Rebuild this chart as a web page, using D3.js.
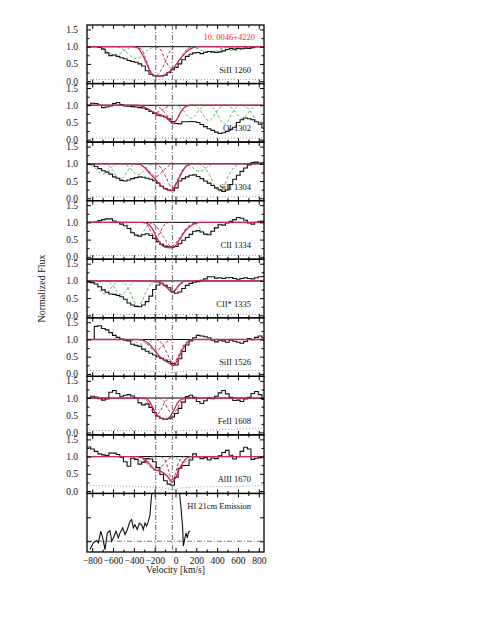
<!DOCTYPE html>
<html>
<head>
<meta charset="utf-8">
<script src="https://cdn.jsdelivr.net/npm/d3@7"></script>
<style>
  body { margin: 0; background: #fff; }
  svg { display: block; }
</style>
</head>
<body>
<svg id="chart" width="485" height="627"></svg>
<script>
// ---- data ----
var velRange = [-850, 850];
var velTicks = [-800, -600, -400, -200, 0, 200, 400, 600, 800];
var velMinorTicks = [-700, -500, -300, -100, 100, 300, 500, 700];
var hvcCenters = [-190, -30];
var fluxTicks = [0, 0.5, 1.0, 1.5];
var fluxMinorTicks = [0.25, 0.75, 1.25];
var titleText = "10. 0046+4220";

// spectra are binned: bin k starts at binStart + k*binWidth
var binStart = -850, binWidth = 35;

var fluxSiII1260 = [1.0,1.0,1.0,0.98,0.93,0.82,0.74,0.76,0.72,0.68,0.65,0.6,0.57,0.55,0.5,0.44,0.3,0.2,0.16,0.15,0.15,0.17,0.25,0.33,0.4,0.5,0.62,0.72,0.78,0.82,0.83,0.8,0.84,0.86,0.85,0.83,0.85,0.88,0.92,0.95,0.93,0.95,0.94,0.96,0.95,0.97,1.0,1.0,1.0];
var fluxOI1302 = [1.0,1.06,1.05,1.0,0.93,0.95,0.98,1.05,1.08,1.02,0.98,0.97,0.96,0.95,0.93,0.92,0.88,0.82,0.76,0.71,0.69,0.66,0.61,0.53,0.47,0.46,0.52,0.52,0.53,0.52,0.5,0.44,0.38,0.32,0.27,0.22,0.18,0.2,0.24,0.3,0.36,0.5,0.58,0.63,0.61,0.58,0.52,0.45,0.34];
var fluxSiII1304 = [1.0,0.98,0.92,0.86,0.8,0.76,0.7,0.62,0.58,0.52,0.5,0.53,0.57,0.6,0.62,0.61,0.58,0.55,0.51,0.44,0.35,0.28,0.24,0.22,0.3,0.5,0.57,0.62,0.67,0.68,0.63,0.57,0.5,0.44,0.37,0.3,0.24,0.2,0.24,0.4,0.55,0.67,0.78,0.88,0.97,1.04,1.05,1.02,1.03];
var fluxCII1334 = [1.0,1.0,1.01,1.05,1.08,1.1,1.1,1.04,1.0,0.95,0.9,0.82,0.7,0.63,0.6,0.64,0.67,0.62,0.53,0.44,0.36,0.31,0.29,0.28,0.3,0.38,0.48,0.56,0.65,0.74,0.76,0.72,0.66,0.64,0.74,0.84,0.93,0.92,0.98,1.03,1.08,1.14,1.12,1.06,0.98,0.95,1.0,1.03,1.04];
var fluxCIIs1335 = [0.96,0.95,0.91,0.83,0.74,0.67,0.62,0.61,0.58,0.54,0.47,0.36,0.3,0.26,0.25,0.3,0.4,0.56,0.75,0.88,0.93,0.87,0.8,0.7,0.64,0.68,0.78,0.87,0.93,0.96,0.98,1.02,1.06,1.12,1.12,1.08,1.09,1.07,1.09,1.1,1.07,1.05,1.07,1.09,1.07,1.06,1.09,1.12,1.13];
var fluxSiII1526 = [1.0,1.0,1.38,1.4,1.32,1.28,1.2,1.12,1.06,1.01,0.98,0.96,0.86,0.83,0.8,0.72,0.66,0.6,0.55,0.5,0.45,0.4,0.36,0.3,0.26,0.44,0.65,0.84,0.96,1.05,1.12,1.1,1.08,1.05,0.98,0.93,0.98,0.96,0.92,0.98,0.95,0.92,0.89,0.94,1.03,0.99,1.06,1.1,1.05];
var fluxFeII1608 = [1.0,1.05,1.03,0.98,0.94,0.97,1.17,1.22,1.13,1.05,1.08,1.1,1.06,1.0,0.86,0.8,0.83,0.73,0.58,0.47,0.41,0.38,0.4,0.45,0.55,0.7,0.88,1.04,1.08,1.02,0.9,0.84,0.92,0.99,0.98,1.05,1.15,1.22,1.12,1.02,0.93,0.94,0.9,0.97,1.02,1.13,1.19,1.1,0.96];
var fluxAlII1670 = [1.28,1.22,1.15,1.08,1.05,1.03,1.1,1.1,1.06,0.98,0.85,0.72,0.95,0.92,0.78,0.84,0.94,0.93,0.85,0.68,0.48,0.3,0.2,0.17,0.4,0.66,0.74,0.74,0.9,1.08,1.0,0.94,0.97,0.9,0.96,0.94,1.02,1.12,1.18,1.04,0.93,1.0,1.15,1.27,1.22,0.92,0.95,0.97,1.0];

// error spectra (dotted), [velocity, flux]
var errSiII1260 = [[-850,0.05],[-200,0.04],[850,0.05]];
var errOI1302 = [[-850,0.05],[850,0.05]];
var errSiII1304 = [[-850,0.04],[850,0.04]];
var errCII1334 = [[-850,0.04],[850,0.04]];
var errCIIs1335 = [[-850,0.03],[850,0.03]];
var errSiII1526 = [[-850,0.1],[-300,0.09],[-100,0.06],[-20,0.04],[50,0.07],[150,0.1],[850,0.1]];
var errFeII1608 = [[-850,0.06],[0,0.05],[400,0.08],[850,0.12]];
var errAlII1670 = [[-850,0.16],[-400,0.14],[-150,0.1],[-30,0.05],[50,0.09],[200,0.12],[500,0.13],[850,0.16]];

// total HVC fit (solid red)
var fitSiII1260 = [[-850,1],[-420,1],[-360,0.96],[-315,0.75],[-276,0.5],[-238,0.25],[-200,0.15],[-150,0.14],[-100,0.18],[-60,0.27],[-30,0.35],[10,0.5],[60,0.7],[108,0.86],[170,0.97],[230,1],[850,1]];
var fitOI1302 = [[-850,1],[-380,1],[-320,0.97],[-260,0.88],[-200,0.78],[-150,0.73],[-100,0.67],[-60,0.56],[-25,0.46],[10,0.58],[50,0.8],[90,0.95],[140,1],[850,1]];
var fitSiII1304 = [[-850,1],[-360,1],[-300,0.9],[-240,0.7],[-180,0.5],[-120,0.31],[-70,0.24],[-35,0.23],[0,0.38],[45,0.65],[90,0.88],[150,1],[850,1]];
var fitCII1334 = [[-850,1],[-310,1],[-260,0.95],[-220,0.8],[-180,0.55],[-140,0.37],[-100,0.28],[-50,0.26],[0,0.32],[40,0.5],[90,0.74],[140,0.88],[190,0.97],[250,1],[850,1]];
var fitCIIs1335 = [[-850,1],[-230,1],[-180,0.98],[-130,0.92],[-80,0.8],[-30,0.66],[10,0.78],[50,0.93],[100,1],[850,1]];
var fitSiII1526 = [[-850,1],[-350,1],[-300,0.97],[-250,0.86],[-200,0.68],[-150,0.5],[-100,0.38],[-50,0.29],[-20,0.25],[15,0.38],[50,0.6],[90,0.82],[130,0.95],[170,1],[850,1]];
var fitFeII1608 = [[-850,1],[-300,1],[-250,0.9],[-215,0.7],[-180,0.52],[-140,0.41],[-100,0.38],[-60,0.44],[-20,0.62],[20,0.86],[60,0.97],[110,1],[850,1]];
var fitAlII1670 = [[-850,1],[-380,1],[-320,0.97],[-270,0.86],[-230,0.72],[-190,0.6],[-150,0.58],[-110,0.52],[-70,0.4],[-35,0.26],[0,0.38],[30,0.6],[75,0.84],[110,0.96],[160,1],[850,1]];

// single HVC components (dashed red)
var compsSiII1260 = [
  [[-400,1],[-330,0.93],[-280,0.6],[-240,0.3],[-190,0.16],[-140,0.3],[-100,0.55],[-50,0.88],[0,1]],
  [[-190,1],[-140,0.9],[-100,0.62],[-60,0.42],[-30,0.36],[0,0.4],[40,0.6],[90,0.86],[150,1]]];
var compsOI1302 = [
  [[-360,1],[-300,0.95],[-245,0.85],[-190,0.79],[-135,0.85],[-80,0.95],[-20,1]],
  [[-200,1],[-140,0.9],[-80,0.7],[-25,0.47],[20,0.62],[70,0.88],[130,1]]];
var compsSiII1304 = [
  [[-380,1],[-320,0.95],[-260,0.8],[-190,0.62],[-120,0.8],[-60,0.95],[0,1]],
  [[-200,1],[-140,0.88],[-90,0.6],[-30,0.3],[30,0.6],[80,0.88],[140,1]]];
var compsCII1334 = [
  [[-320,1],[-270,0.92],[-230,0.7],[-190,0.55],[-150,0.7],[-110,0.92],[-60,1]],
  [[-260,1],[-190,0.9],[-120,0.6],[-40,0.3],[40,0.55],[110,0.85],[190,0.98],[250,1]]];
var compsCIIs1335 = [
  [[-300,1],[-250,0.99],[-190,0.97],[-130,0.99],[-80,1]],
  [[-170,1],[-120,0.93],[-75,0.8],[-30,0.67],[15,0.8],[60,0.93],[110,1]]];
var compsSiII1526 = [
  [[-360,1],[-300,0.94],[-250,0.8],[-190,0.66],[-130,0.8],[-80,0.94],[-20,1]],
  [[-190,1],[-130,0.88],[-80,0.6],[-25,0.3],[30,0.55],[80,0.85],[140,1]]];
var compsFeII1608 = [
  [[-320,1],[-270,0.9],[-230,0.66],[-185,0.5],[-140,0.66],[-100,0.9],[-50,1]],
  [[-160,1],[-110,0.9],[-70,0.66],[-25,0.55],[20,0.7],[60,0.92],[110,1]]];
var compsAlII1670 = [
  [[-360,1],[-300,0.9],[-250,0.72],[-190,0.6],[-130,0.72],[-80,0.9],[-20,1]],
  [[-140,1],[-100,0.9],[-65,0.58],[-30,0.27],[5,0.58],[40,0.9],[80,1]]];

// other (blended / non-HVC) components (dashed green)
var blendsSiII1260 = [
  [[-760,1],[-690,0.93],[-630,0.8],[-580,0.76],[-530,0.8],[-470,0.93],[-400,1]],
  [[-560,1],[-490,0.9],[-430,0.72],[-380,0.66],[-330,0.72],[-270,0.9],[-200,1]],
  [[150,1],[220,0.93],[280,0.86],[330,0.84],[380,0.86],[440,0.93],[510,1]],
  [[380,1],[450,0.95],[510,0.9],[560,0.89],[610,0.9],[670,0.95],[740,1]]];
var blendsOI1302 = [
  [[-10,1],[40,0.95],[80,0.83],[115,0.69],[150,0.62],[185,0.69],[220,0.83],[260,0.95],[310,1]],
  [[160,1],[210,0.94],[250,0.8],[285,0.63],[320,0.55],[355,0.63],[390,0.8],[430,0.94],[480,1]],
  [[310,1],[360,0.93],[400,0.76],[435,0.55],[470,0.45],[505,0.55],[540,0.76],[580,0.93],[630,1]],
  [[480,1],[530,0.95],[570,0.83],[605,0.69],[640,0.62],[675,0.69],[710,0.83],[750,0.95],[800,1]],
  [[640,1],[690,0.93],[730,0.78],[765,0.59],[800,0.5],[835,0.59],[870,0.78]]];
var blendsSiII1304 = [
  [[-860,1],[-810,0.96],[-770,0.87],[-735,0.76],[-700,0.7],[-665,0.76],[-630,0.87],[-590,0.96],[-540,1]],
  [[-690,1],[-640,0.94],[-600,0.8],[-565,0.63],[-530,0.55],[-495,0.63],[-460,0.8],[-420,0.94],[-370,1]],
  [[-520,1],[-470,0.96],[-430,0.86],[-395,0.74],[-360,0.68],[-325,0.74],[-290,0.86],[-250,0.96],[-200,1]],
  [[70,1],[120,0.97],[160,0.9],[195,0.82],[230,0.78],[265,0.82],[300,0.9],[340,0.97],[390,1]],
  [[220,1],[280,0.89],[330,0.66],[375,0.36],[420,0.21],[465,0.36],[510,0.66],[560,0.89],[620,1]]];
var blendsCII1334 = [
  [[-520,1],[-470,0.95],[-430,0.82],[-395,0.67],[-360,0.6],[-325,0.67],[-290,0.82],[-250,0.95],[-200,1]],
  [[140,1],[190,0.95],[230,0.84],[265,0.71],[300,0.64],[335,0.71],[370,0.84],[410,0.95],[460,1]]];
var blendsCIIs1335 = [
  [[-840,1],[-790,0.95],[-750,0.83],[-715,0.69],[-680,0.62],[-645,0.69],[-610,0.83],[-570,0.95],[-520,1]],
  [[-680,1],[-630,0.95],[-590,0.82],[-555,0.67],[-520,0.6],[-485,0.67],[-450,0.82],[-410,0.95],[-360,1]],
  [[-530,1],[-480,0.9],[-437,0.68],[-398,0.41],[-360,0.27],[-322,0.41],[-283,0.68],[-240,0.9],[-190,1]]];
var blendsSiII1526 = [
  [[-480,1],[-430,0.98],[-390,0.94],[-355,0.89],[-320,0.86],[-285,0.89],[-250,0.94],[-210,0.98],[-160,1]]];
var blendsFeII1608 = [];
var blendsAlII1670 = [
  [[-440,1],[-400,0.97],[-370,0.92],[-345,0.87],[-320,0.84],[-295,0.87],[-270,0.92],[-240,0.97],[-200,1]],
  [[-40,1],[0,0.97],[30,0.92],[55,0.86],[80,0.82],[105,0.86],[130,0.92],[160,0.97],[200,1]]];

// HI 21cm emission profile, [velocity, relative brightness]
var hiEmission = [[-821,-0.35],[-789,-0.07],[-757,0.03],[-741,-0.07],[-718,0.42],[-699,0.14],[-677,-0.35],[-655,0.35],[-629,0.44],[-613,0.0],[-597,0.14],[-571,0.42],[-549,0.14],[-533,0.35],[-507,0.56],[-485,0.28],[-463,0.49],[-437,0.83],[-421,0.9],[-405,0.56],[-389,0.69],[-367,0.49],[-347,0.76],[-325,0.69],[-309,0.49],[-293,0.76],[-277,0.63],[-261,0.83],[-245,1.1],[-235,1.66],[-223,2.2],[-210,3.5],[20,3.5],[34,2.2],[53,1.39],[69,0.56],[75,-0.2],[91,0.14],[101,0.35],[113,0.14],[126,0.39],[139,0.42]];
var hiTicks = [0, 1];

var panels = [
  {label: "SiII 1260", flux: fluxSiII1260, err: errSiII1260, fit: fitSiII1260, comps: compsSiII1260, blends: blendsSiII1260},
  {label: "OI 1302", flux: fluxOI1302, err: errOI1302, fit: fitOI1302, comps: compsOI1302, blends: blendsOI1302},
  {label: "SiII 1304", flux: fluxSiII1304, err: errSiII1304, fit: fitSiII1304, comps: compsSiII1304, blends: blendsSiII1304},
  {label: "CII 1334", flux: fluxCII1334, err: errCII1334, fit: fitCII1334, comps: compsCII1334, blends: blendsCII1334},
  {label: "CII* 1335", flux: fluxCIIs1335, err: errCIIs1335, fit: fitCIIs1335, comps: compsCIIs1335, blends: blendsCIIs1335},
  {label: "SiII 1526", flux: fluxSiII1526, err: errSiII1526, fit: fitSiII1526, comps: compsSiII1526, blends: blendsSiII1526},
  {label: "FeII 1608", flux: fluxFeII1608, err: errFeII1608, fit: fitFeII1608, comps: compsFeII1608, blends: blendsFeII1608},
  {label: "AlII 1670", flux: fluxAlII1670, err: errAlII1670, fit: fitAlII1670, comps: compsAlII1670, blends: blendsAlII1670}
];

// ---- drawing ----
var svg = d3.select("#chart"),
  FRAME = {left: 87, right: 264, top: 25, bottom: 552},
  nPanels = panels.length + 1,
  PH = (FRAME.bottom - FRAME.top) / nPanels,
  serif = "'Liberation Serif', 'Times New Roman', Times, serif",
  RED = "#c8285c",
  GREEN = "#5aaa5a",
  xScale = d3.scaleLinear().domain(velRange).range([FRAME.left, FRAME.right]);

function styleAxis(g) {
  g.select(".domain").remove();
  g.attr("font-family", serif).attr("font-size", 9.5);
  g.selectAll("line").attr("stroke", "#000").attr("stroke-width", 1);
  g.selectAll("text").attr("fill", "#111");
}

function drawFrame(top, yScale, yTicks, yMinor, isLast) {
  var bottom = top + PH;
  // x ticks, top and bottom, pointing inwards
  svg.append("g").attr("transform", "translate(0," + bottom + ")")
    .call(d3.axisBottom(xScale).tickValues(velTicks).tickSize(-4).tickSizeOuter(0).tickPadding(5)
      .tickFormat(isLast ? d3.format("d") : ""))
    .call(styleAxis);
  svg.append("g").attr("transform", "translate(0," + bottom + ")")
    .call(d3.axisBottom(xScale).tickValues(velMinorTicks).tickSize(-2.5).tickSizeOuter(0).tickFormat(""))
    .call(styleAxis);
  svg.append("g").attr("transform", "translate(0," + top + ")")
    .call(d3.axisTop(xScale).tickValues(velTicks).tickSize(-4).tickSizeOuter(0).tickFormat(""))
    .call(styleAxis);
  svg.append("g").attr("transform", "translate(0," + top + ")")
    .call(d3.axisTop(xScale).tickValues(velMinorTicks).tickSize(-2.5).tickSizeOuter(0).tickFormat(""))
    .call(styleAxis);
  // y ticks, left (labelled) and right
  svg.append("g").attr("transform", "translate(" + FRAME.left + ",0)")
    .call(d3.axisLeft(yScale).tickValues(yTicks).tickSize(-4).tickSizeOuter(0).tickPadding(9)
      .tickFormat(yMinor ? d3.format(".1f") : ""))
    .call(styleAxis);
  svg.append("g").attr("transform", "translate(" + FRAME.right + ",0)")
    .call(d3.axisRight(yScale).tickValues(yTicks).tickSize(-4).tickSizeOuter(0).tickFormat(""))
    .call(styleAxis);
  if (yMinor) {
    svg.append("g").attr("transform", "translate(" + FRAME.left + ",0)")
      .call(d3.axisLeft(yScale).tickValues(yMinor).tickSize(-2.5).tickSizeOuter(0).tickFormat(""))
      .call(styleAxis);
    svg.append("g").attr("transform", "translate(" + FRAME.right + ",0)")
      .call(d3.axisRight(yScale).tickValues(yMinor).tickSize(-2.5).tickSizeOuter(0).tickFormat(""))
      .call(styleAxis);
  }
  svg.append("rect")
    .attr("x", FRAME.left).attr("y", top)
    .attr("width", FRAME.right - FRAME.left).attr("height", PH)
    .attr("fill", "none").attr("stroke", "#000").attr("stroke-width", 1.3);
}

function clipFor(i, top) {
  svg.append("clipPath").attr("id", "clip" + i)
    .append("rect")
    .attr("x", FRAME.left).attr("y", top)
    .attr("width", FRAME.right - FRAME.left).attr("height", PH);
  return svg.append("g").attr("clip-path", "url(#clip" + i + ")");
}

panels.forEach(function (p, i) {
  var top = FRAME.top + i * PH,
    yScale = d3.scaleLinear().domain([-0.07, 1.63]).range([top + PH, top]),
    smooth = d3.line().x(function (d) { return xScale(d[0]); })
      .y(function (d) { return yScale(d[1]); }).curve(d3.curveMonotoneX),
    straight = d3.line().x(function (d) { return xScale(d[0]); })
      .y(function (d) { return yScale(d[1]); }),
    steps = d3.line().x(function (d) { return xScale(d[0]); })
      .y(function (d) { return yScale(d[1]); }).curve(d3.curveStepAfter),
    g = clipFor(i, top);

  var spec = p.flux.map(function (f, k) { return [binStart + k * binWidth, f]; });
  spec.push([binStart + p.flux.length * binWidth, p.flux[p.flux.length - 1]]);

  g.append("path").attr("d", straight(p.err))
    .attr("fill", "none").attr("stroke", "#888").attr("stroke-width", 0.8)
    .attr("stroke-dasharray", "1,2");

  g.append("path").attr("d", straight([[velRange[0], 1], [velRange[1], 1]]))
    .attr("fill", "none").attr("stroke", "#000").attr("stroke-width", 1);

  p.blends.forEach(function (c) {
    g.append("path").attr("d", smooth(c))
      .attr("fill", "none").attr("stroke", GREEN).attr("stroke-width", 0.9)
      .attr("stroke-dasharray", "3,2");
  });

  g.append("path").attr("d", steps(spec))
    .attr("fill", "none").attr("stroke", "#111").attr("stroke-width", 1.1);

  p.comps.forEach(function (c) {
    g.append("path").attr("d", smooth(c))
      .attr("fill", "none").attr("stroke", RED).attr("stroke-width", 1)
      .attr("stroke-dasharray", "3,2");
  });

  g.append("path").attr("d", smooth(p.fit))
    .attr("fill", "none").attr("stroke", RED).attr("stroke-width", 1.3);

  drawFrame(top, yScale, fluxTicks, fluxMinorTicks, false);

  svg.append("text")
    .attr("x", 251).attr("y", top + 47.5)
    .attr("text-anchor", "end")
    .attr("font-family", serif).attr("font-size", 8.5)
    .attr("fill", "#111")
    .text(p.label);
});

// HI 21cm panel
(function () {
  var i = panels.length,
    top = FRAME.top + i * PH,
    yHI = d3.scaleLinear().domain([-0.45, 2.0]).range([top + PH, top]),
    line = d3.line().x(function (d) { return xScale(d[0]); })
      .y(function (d) { return yHI(d[1]); }),
    g = clipFor(i, top);

  g.append("path").attr("d", line([[velRange[0], 0], [velRange[1], 0]]))
    .attr("fill", "none").attr("stroke", "#555").attr("stroke-width", 0.8)
    .attr("stroke-dasharray", "5,2,1,2");
  g.append("path").attr("d", line(hiEmission))
    .attr("fill", "none").attr("stroke", "#111").attr("stroke-width", 1.1);

  drawFrame(top, yHI, hiTicks, null, true);

  svg.append("text")
    .attr("x", 251).attr("y", top + 16)
    .attr("text-anchor", "end")
    .attr("font-family", serif).attr("font-size", 8.5)
    .attr("fill", "#111")
    .text("HI 21cm Emission");
})();

// HVC velocity markers through all panels
hvcCenters.forEach(function (v) {
  svg.append("line")
    .attr("x1", xScale(v)).attr("x2", xScale(v))
    .attr("y1", FRAME.top).attr("y2", FRAME.bottom)
    .attr("stroke", "#444").attr("stroke-width", 0.8)
    .attr("stroke-dasharray", "5,2,1,2");
});

// titles
svg.append("text")
  .attr("x", 255).attr("y", 40)
  .attr("text-anchor", "end")
  .attr("font-family", serif).attr("font-size", 8.5)
  .attr("fill", "#ff2a2a")
  .text(titleText);

svg.append("text")
  .attr("x", (FRAME.left + FRAME.right) / 2).attr("y", 573)
  .attr("text-anchor", "middle")
  .attr("font-family", serif).attr("font-size", 9.5)
  .attr("fill", "#111")
  .text("Velocity [km/s]");

svg.append("text")
  .attr("transform", "translate(45," + ((FRAME.top + FRAME.bottom) / 2) + ") rotate(-90)")
  .attr("text-anchor", "middle")
  .attr("font-family", serif).attr("font-size", 10)
  .attr("fill", "#111")
  .text("Normalized Flux");
</script>
</body>
</html>
